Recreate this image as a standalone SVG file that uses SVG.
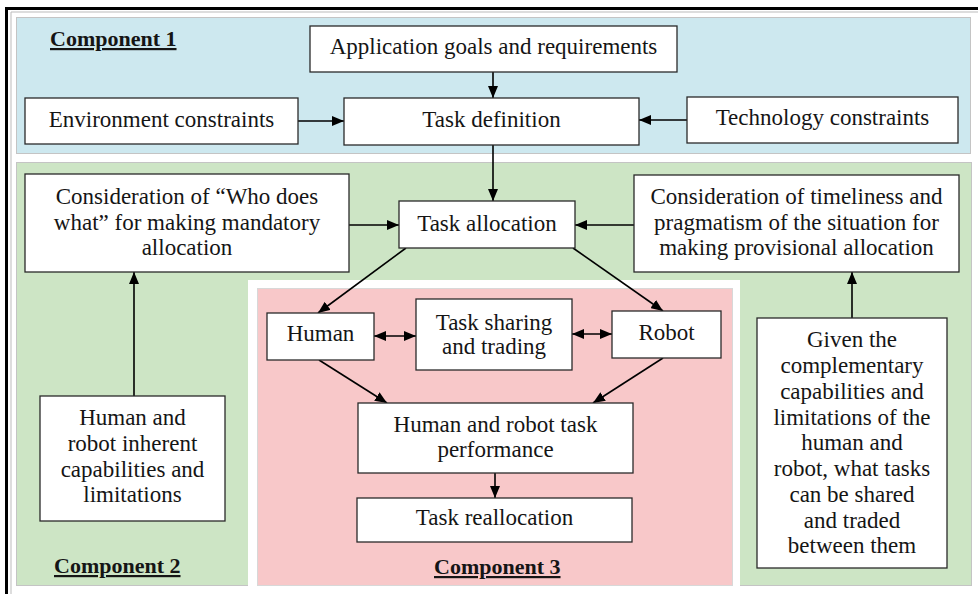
<svg xmlns="http://www.w3.org/2000/svg" width="978" height="594" viewBox="0 0 978 594">
<defs>
<marker id="ah" viewBox="0 0 12 10" refX="12" refY="5" markerWidth="12" markerHeight="10" markerUnits="userSpaceOnUse" orient="auto-start-reverse">
<path d="M0,0 L12,5 L0,10 z" fill="#000"/>
</marker>
<style>
.box{fill:#fff;stroke:#2a2a2a;stroke-width:1.3}
.t{font-size:23px;fill:#151515;text-anchor:middle}
.lbl{font-size:22px;font-weight:bold;fill:#151515;text-decoration:underline}
.c{stroke:#000;stroke-width:1.6;fill:none;marker-end:url(#ah)}
.d{marker-start:url(#ah)}
</style>
</defs>
<rect x="0" y="0" width="978" height="594" fill="#fff"/>
<g id="frame">
<path d="M6.5,600 V8.5 H985" fill="none" stroke="#000" stroke-width="3"/>
<path d="M11,600 V12 H985" fill="none" stroke="#bbb" stroke-width="1"/>
</g>
<g id="panels">
<rect x="16.5" y="17.5" width="954" height="136" fill="#cde8ef" stroke="#c4c4c4" stroke-width="1"/>
<rect x="16.5" y="162.5" width="955" height="423" fill="#cde5c5" stroke="#c4c4c4" stroke-width="1"/>
<rect x="248" y="280" width="492" height="314" fill="#fff"/>
<rect x="257.5" y="288.5" width="475" height="297" fill="#f8c8c9" stroke="#d8d8d8" stroke-width="1"/>
</g>
<g font-family="'Liberation Serif', 'Times New Roman', 'DejaVu Serif', serif">
<g id="labels">
<text class="lbl" x="50" y="46">Component 1</text>
<text class="lbl" x="54" y="573">Component 2</text>
<text class="lbl" x="434" y="574">Component 3</text>
</g>
<g id="connectors">
<line class="c" x1="493" y1="72" x2="493" y2="98"/>
<line class="c" x1="298" y1="121" x2="344" y2="121"/>
<line class="c" x1="687" y1="120" x2="639" y2="120"/>
<line class="c" x1="493" y1="145" x2="493" y2="201"/>
<line class="c" x1="349" y1="225" x2="399" y2="225"/>
<line class="c" x1="634" y1="225" x2="575" y2="225"/>
<line class="c" x1="406" y1="248" x2="318" y2="313"/>
<line class="c" x1="573" y1="248" x2="663" y2="311"/>
<line class="c d" x1="374" y1="336" x2="416" y2="336"/>
<line class="c d" x1="572" y1="334" x2="612" y2="334"/>
<line class="c" x1="319" y1="360" x2="387" y2="403"/>
<line class="c" x1="663" y1="358" x2="593" y2="403"/>
<line class="c" x1="495" y1="473" x2="495" y2="498"/>
<line class="c" x1="134" y1="396" x2="134" y2="272"/>
<line class="c" x1="852" y1="318" x2="852" y2="272"/>
</g>
<g id="app"><rect class="box" x="310" y="26" width="367" height="46"/><text class="t" x="493.5" y="54">Application goals and requirements</text></g>
<g id="env"><rect class="box" x="25" y="98" width="273" height="46"/><text class="t" x="161.5" y="127">Environment constraints</text></g>
<g id="taskdef"><rect class="box" x="344" y="98" width="295" height="47"/><text class="t" x="491.5" y="127">Task definition</text></g>
<g id="tech"><rect class="box" x="687" y="97" width="271" height="46"/><text class="t" x="822.5" y="125">Technology constraints</text></g>
<g id="cons-left"><rect class="box" x="25" y="174" width="324" height="98"/>
<text class="t" x="187" y="204">Consideration of “Who does</text>
<text class="t" x="187" y="230">what” for making mandatory</text>
<text class="t" x="187" y="255">allocation</text></g>
<g id="taskalloc"><rect class="box" x="399" y="201" width="176" height="47"/><text class="t" x="487" y="231">Task allocation</text></g>
<g id="cons-right"><rect class="box" x="634" y="175" width="325" height="97"/>
<text class="t" x="796.5" y="204">Consideration of timeliness and</text>
<text class="t" x="796.5" y="230">pragmatism of the situation for</text>
<text class="t" x="796.5" y="255">making provisional allocation</text></g>
<g id="human"><rect class="box" x="267" y="313" width="107" height="47"/><text class="t" x="320.5" y="341">Human</text></g>
<g id="sharing"><rect class="box" x="416" y="299" width="156" height="71"/>
<text class="t" x="494" y="330">Task sharing</text>
<text class="t" x="494" y="354">and trading</text></g>
<g id="robot"><rect class="box" x="612" y="311" width="109" height="47"/><text class="t" x="666.5" y="340">Robot</text></g>
<g id="perf"><rect class="box" x="358" y="403" width="275" height="70"/>
<text class="t" x="495.5" y="432">Human and robot task</text>
<text class="t" x="495.5" y="457">performance</text></g>
<g id="realloc"><rect class="box" x="357" y="498" width="275" height="44"/><text class="t" x="494.5" y="525">Task reallocation</text></g>
<g id="inherent"><rect class="box" x="40" y="396" width="185" height="125"/>
<text class="t" x="132.5" y="425">Human and</text>
<text class="t" x="132.5" y="451">robot inherent</text>
<text class="t" x="132.5" y="477">capabilities and</text>
<text class="t" x="132.5" y="502">limitations</text></g>
<g id="given"><rect class="box" x="757" y="318" width="190" height="250"/>
<text class="t" x="852" y="347">Given the</text>
<text class="t" x="852" y="373">complementary</text>
<text class="t" x="852" y="399">capabilities and</text>
<text class="t" x="852" y="425">limitations of the</text>
<text class="t" x="852" y="450">human and</text>
<text class="t" x="852" y="476">robot, what tasks</text>
<text class="t" x="852" y="502">can be shared</text>
<text class="t" x="852" y="528">and traded</text>
<text class="t" x="852" y="553">between them</text></g>
</g>
</svg>
